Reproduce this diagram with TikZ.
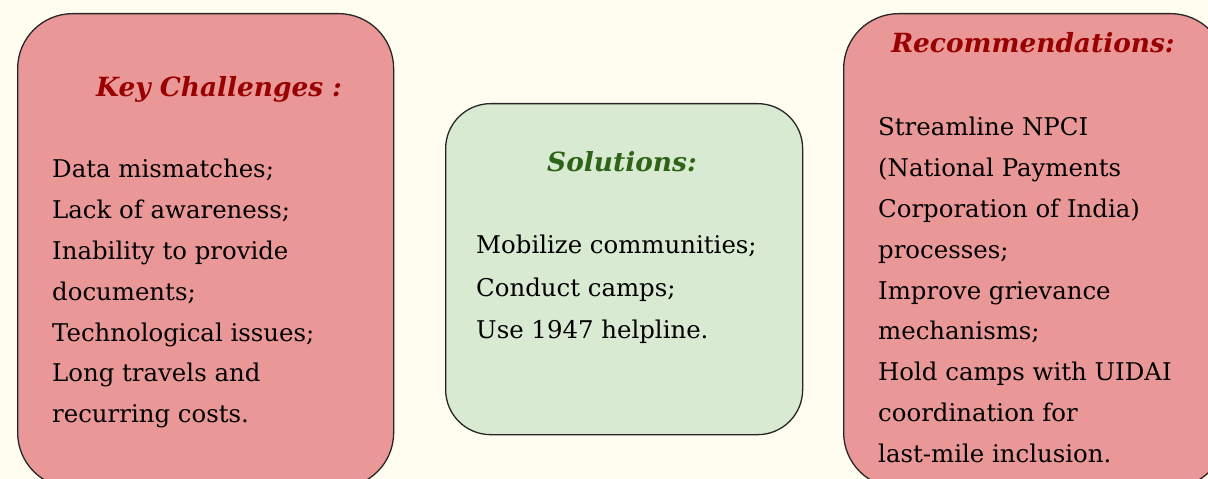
\documentclass[tikz,border=0pt]{standalone}
\usepackage{fontspec}
\setmainfont{DejaVu Serif}
\definecolor{bgcream}{HTML}{FFFDF0}
\definecolor{boxred}{HTML}{EA9797}
\definecolor{boxgreen}{HTML}{D9EAD3}
\definecolor{headred}{HTML}{990000}
\definecolor{headgreen}{HTML}{2F6418}

\begin{document}
\begin{tikzpicture}[x=1bp, y=-1bp,
    box/.style={draw=black!85, line width=1.3bp, rounded corners=55bp, inner sep=0pt, anchor=north west},
    redbox/.style={box, fill=boxred},
    greenbox/.style={box, fill=boxgreen, rounded corners=45bp},
    head/.style={font=\fontsize{26.5}{32}\selectfont\bfseries\itshape, anchor=base, inner sep=0pt},
    body/.style={font=\fontsize{24.5}{41}\selectfont, align=left, anchor=north west, inner sep=0pt}]
    \fill[bgcream] (0,0) rectangle (1208,479);
    \useasboundingbox (0,0) rectangle (1208,479);
    \clip (0,0) rectangle (1208,479);

    % the three boxes
    \node[redbox, minimum width=376bp, minimum height=474bp] (chalbox) at (17,13) {};
    \node[greenbox, minimum width=357bp, minimum height=331bp] (solbox) at (445,103) {};
    \node[redbox, minimum width=382bp, minimum height=474bp] (recbox) at (843,13) {};

    % titles
    \node[head, text=headred] (chalhead) at (219,97) {Key Challenges\,\,:};
    \node[head, text=headgreen] (solhead) at (622,172) {Solutions:};
    \node[head, text=headred] (rechead) at (1033,53) {Recommendations:};

    % texts
    \node[body] (chaltext) at (52,159) {Data mismatches;\\Lack of awareness;\\Inability to provide\\documents;\\Technological issues;\\Long travels and\\recurring costs.};
    \node[body, font=\fontsize{24.5}{42.5}\selectfont] (soltext) at (476,235) {Mobilize communities;\\Conduct camps;\\Use 1947 helpline.};
    \node[body] (rectext) at (878,117) {Streamline NPCI\\(National Payments\\Corporation of India)\\processes;\\Improve grievance\\mechanisms;\\Hold camps with UIDAI\\coordination for\\last-mile inclusion.};
\end{tikzpicture}
\end{document}
